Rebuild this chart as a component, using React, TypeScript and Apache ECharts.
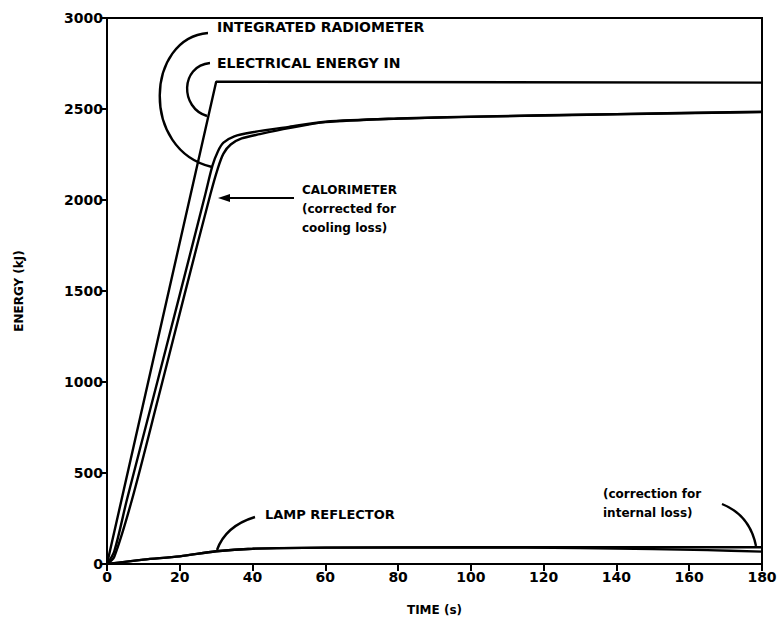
import React, { useEffect, useRef } from "react";
import * as echarts from "echarts";

const xTicks = [0, 20, 40, 60, 80, 100, 120, 140, 160, 180];
const yTicks = [0, 500, 1000, 1500, 2000, 2500, 3000];

const electricalIn: [number, number][] = [
  [0, 0], [30, 2650], [180, 2645],
];

const radiometer: [number, number][] = [
  [0, 0], [2, 70], [5.5, 356], [12.6, 905], [20, 1480], [27, 2030], [29, 2190],
  [30.5, 2268], [32, 2315], [35, 2350], [40, 2372], [50, 2402], [60, 2430],
  [80, 2448], [100, 2458], [140, 2472], [180, 2485],
];

const calorimeter: [number, number][] = [
  [0, 0], [2, 40], [6.9, 356], [14, 905], [21.3, 1480], [28.4, 2030], [30.4, 2170],
  [32, 2255], [34, 2305], [37, 2338], [42, 2362], [50, 2395], [60, 2428],
  [80, 2447], [100, 2457], [140, 2471], [180, 2483],
];

const lampReflector: [number, number][] = [
  [0, 0], [10, 24], [20, 42], [30, 70], [40, 84], [60, 90], [100, 92],
  [140, 92], [180, 92],
];

const lampCorrected: [number, number][] = [
  [0, 0], [10, 24], [20, 42], [30, 70], [40, 84], [60, 90], [100, 91],
  [130, 88], [150, 82], [165, 76], [180, 68],
];

const FONT = "DejaVu Sans";

export default function App() {
  const ref = useRef<HTMLDivElement>(null);
  useEffect(() => {
    if (!ref.current) return;
    const chart = echarts.init(ref.current, undefined, { renderer: "svg" });
    const lineStyle = { color: "#000", width: 2.4 };
    const mkSeries = (name: string, data: [number, number][]) => ({
      name,
      type: "line",
      data,
      showSymbol: false,
      symbol: "none",
      smooth: 0.3,
      lineStyle,
      z: 3,
    });
    const txt = (x: number, y: number, text: string, size = 13) => ({
      type: "text",
      x,
      y,
      style: {
        text,
        fill: "#000",
        font: `bold ${size}px "${FONT}"`,
        textVerticalAlign: "middle",
      },
      z: 10,
    });
    const curve = (x1: number, y1: number, cx1: number, cy1: number, cx2: number, cy2: number, x2: number, y2: number) => ({
      type: "bezierCurve",
      shape: { x1, y1, cpx1: cx1, cpy1: cy1, cpx2: cx2, cpy2: cy2, x2, y2 },
      style: { stroke: "#000", lineWidth: 2.4, fill: "none" },
      z: 10,
    });
    chart.setOption({
      animation: false,
      backgroundColor: "#fff",
      grid: {
        left: 107,
        right: 19,
        top: 18,
        bottom: 61,
        show: true,
        borderColor: "#000",
        borderWidth: 2,
      },
      xAxis: {
        type: "value",
        min: 0,
        max: 180,
        interval: 20,
        name: "TIME (s)",
        nameLocation: "middle",
        nameGap: 40,
        nameTextStyle: { color: "#000", fontFamily: FONT, fontWeight: "bold", fontSize: 12 },
        axisLine: { show: true, lineStyle: { color: "#000", width: 2 } },
        axisTick: { show: true, inside: false, length: 7, lineStyle: { color: "#000", width: 2 } },
        axisLabel: {
          color: "#000",
          fontFamily: FONT,
          fontWeight: "bold",
          fontSize: 14,
          margin: 6,
          formatter: (v: number) => (xTicks.includes(v) ? String(v) : ""),
        },
        splitLine: { show: false },
      },
      yAxis: {
        type: "value",
        min: 0,
        max: 3000,
        interval: 500,
        name: "ENERGY (kJ)",
        nameLocation: "middle",
        nameGap: 82,
        nameRotate: 90,
        nameTextStyle: { color: "#000", fontFamily: FONT, fontWeight: "bold", fontSize: 12 },
        axisLine: { show: true, lineStyle: { color: "#000", width: 2 } },
        axisTick: { show: true, inside: false, length: 7, lineStyle: { color: "#000", width: 2 } },
        axisLabel: {
          color: "#000",
          fontFamily: FONT,
          fontWeight: "bold",
          fontSize: 14,
          margin: 4,
          formatter: (v: number) => (yTicks.includes(v) ? String(v) : ""),
        },
        splitLine: { show: false },
      },
      series: [
        { ...mkSeries("ELECTRICAL ENERGY IN", electricalIn), smooth: false },
        mkSeries("INTEGRATED RADIOMETER", radiometer),
        mkSeries("CALORIMETER", calorimeter),
        mkSeries("LAMP REFLECTOR", lampReflector),
        mkSeries("LAMP REFLECTOR (corrected)", lampCorrected),
      ],
      graphic: [
        txt(217, 27, "INTEGRATED RADIOMETER", 14),
        txt(217, 63, "ELECTRICAL ENERGY IN", 14),
        txt(302, 190, "CALORIMETER", 12),
        txt(302, 209, "(corrected for", 12),
        txt(302, 228, "cooling loss)", 12),
        txt(265, 514, "LAMP REFLECTOR", 13),
        txt(603, 494, "(correction for", 12),
        txt(603, 513, "internal loss)", 12),
        curve(208, 33, 146, 38, 140, 150, 212, 167),
        curve(210, 63, 180, 66, 180, 108, 207, 116),
        curve(255, 517, 232, 524, 222, 536, 217, 550),
        curve(722, 504, 742, 512, 752, 526, 756, 546),
        {
          type: "line",
          shape: { x1: 294, y1: 198, x2: 226, y2: 198 },
          style: { stroke: "#000", lineWidth: 2.2 },
          z: 10,
        },
        {
          type: "polygon",
          shape: { points: [[218, 198], [230, 194], [230, 202]] },
          style: { fill: "#000" },
          z: 10,
        },
      ],
    });
    return () => chart.dispose();
  }, []);
  return (
    <div
      ref={ref}
      style={{ position: "fixed", left: 0, top: 0, width: 781, height: 625 }}
    />
  );
}
